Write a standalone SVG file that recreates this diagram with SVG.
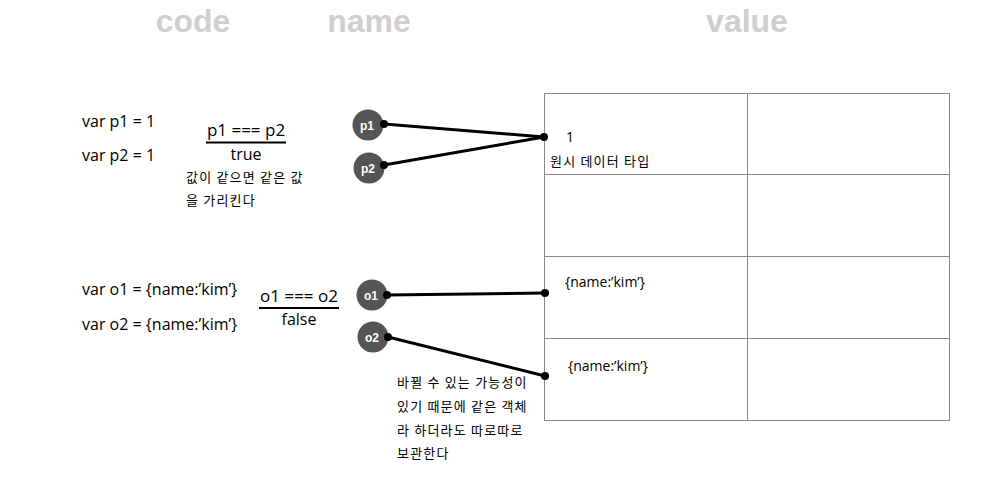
<svg xmlns="http://www.w3.org/2000/svg" width="994" height="504" viewBox="0 0 994 504">
<style>
.title{font-family:"Liberation Sans",Arial,sans-serif;font-weight:bold;font-size:32px;fill:#cfcfcf;text-anchor:middle}
.code{font-family:"Open Sans","Liberation Sans",sans-serif;font-size:16px;fill:#000}
.ko{font-family:"Noto Sans CJK KR","Noto Sans",sans-serif;font-size:13px;letter-spacing:1.2px;fill:#000}
.nm{font-family:"Liberation Sans",Arial,sans-serif;font-weight:bold;font-size:12px;fill:#fff;text-anchor:middle}
.circ{fill:#555}
.conn{stroke:#000;stroke-width:3;fill:none}
.dot{fill:#000}
.grid{stroke:#888;stroke-width:1;fill:none}
</style>
<g id="titles">
<text class="title" x="193" y="32">code</text>
<text class="title" x="369" y="32">name</text>
<text class="title" x="747" y="32">value</text>
</g>
<g id="grid">
<rect class="grid" x="544.5" y="93.5" width="405" height="327"/>
<line class="grid" x1="747.5" y1="93.5" x2="747.5" y2="420.5"/>
<line class="grid" x1="544.5" y1="174.5" x2="949.5" y2="174.5"/>
<line class="grid" x1="544.5" y1="256.5" x2="949.5" y2="256.5"/>
<line class="grid" x1="544.5" y1="338.5" x2="949.5" y2="338.5"/>
</g>
<g id="code">
<text class="code" x="82" y="127">var p1 = 1</text>
<text class="code" x="82" y="161">var p2 = 1</text>
<text class="code" x="246" y="136" text-anchor="middle" style="font-size:17px">p1 === p2</text>
<line x1="206" y1="142.5" x2="286" y2="142.5" stroke="#000" stroke-width="2"/>
<text class="code" x="246" y="160" text-anchor="middle">true</text>
<text class="ko" x="186" y="182">값이 같으면 같은 값</text>
<text class="ko" x="186" y="205">을 가리킨다</text>
<text class="code" x="82" y="295">var o1 = {name:’kim’}</text>
<text class="code" x="82" y="330">var o2 = {name:’kim’}</text>
<text class="code" x="299" y="302" text-anchor="middle" style="font-size:17px">o1 === o2</text>
<line x1="259" y1="308" x2="339" y2="308" stroke="#000" stroke-width="2"/>
<text class="code" x="299" y="325" text-anchor="middle">false</text>
</g>
<g id="connectors">
<line class="conn" x1="384" y1="124" x2="544" y2="137"/>
<line class="conn" x1="384" y1="165" x2="544" y2="137"/>
<line class="conn" x1="387" y1="295" x2="545" y2="293"/>
<line class="conn" x1="388" y1="337" x2="545" y2="376"/>
</g>
<g id="p1"><circle class="circ" cx="368" cy="125" r="15.5"/><text class="nm" x="367" y="129.5">p1</text><circle class="dot" cx="384" cy="124" r="4"/></g>
<g id="p2"><circle class="circ" cx="369" cy="168" r="15.5"/><text class="nm" x="368" y="172.5">p2</text><circle class="dot" cx="384" cy="165" r="4"/></g>
<g id="o1"><circle class="circ" cx="372" cy="295" r="15.5"/><text class="nm" x="371" y="299.5">o1</text><circle class="dot" cx="387" cy="295" r="4"/></g>
<g id="o2"><circle class="circ" cx="373" cy="337" r="15.5"/><text class="nm" x="372" y="341.5">o2</text><circle class="dot" cx="388" cy="337" r="4"/></g>
<g id="values">
<circle class="dot" cx="544" cy="137" r="4"/>
<circle class="dot" cx="545" cy="293" r="4"/>
<circle class="dot" cx="545" cy="376" r="4"/>
<text class="code" x="566" y="142" style="font-size:14px">1</text>
<text class="ko" x="550" y="166">원시 데이터 타입</text>
<text class="code" x="565" y="287" style="font-size:14px">{name:’kim’}</text>
<text class="code" x="568" y="371" style="font-size:14px">{name:’kim’}</text>
</g>
<g id="note">
<text class="ko" x="397" y="387">바뀔 수 있는 가능성이</text>
<text class="ko" x="397" y="411">있기 때문에 같은 객체</text>
<text class="ko" x="397" y="435">라 하더라도 따로따로</text>
<text class="ko" x="397" y="458">보관한다</text>
</g>
</svg>
